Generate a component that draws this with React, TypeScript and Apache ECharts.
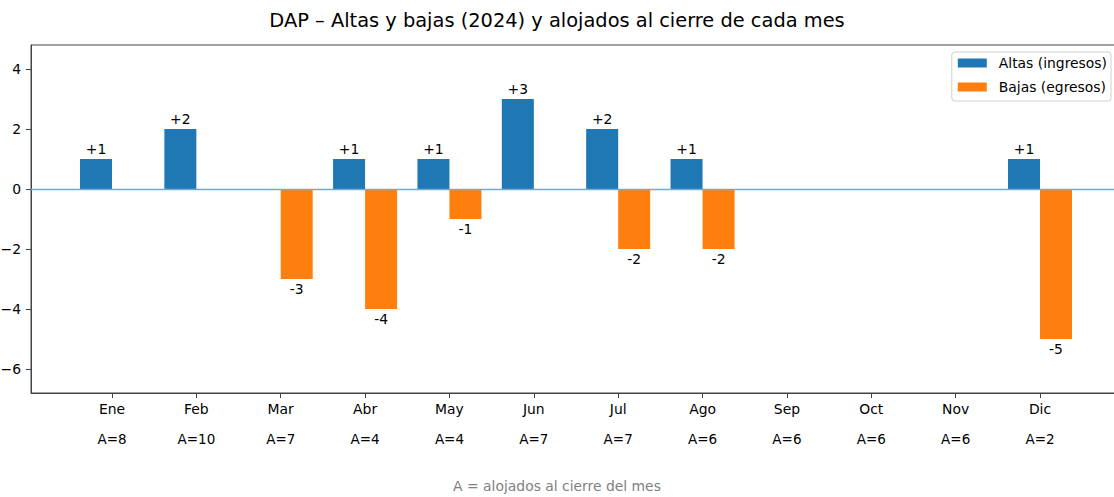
import React, { useEffect, useRef } from "react";
import * as echarts from "echarts";

const months = ["Ene", "Feb", "Mar", "Abr", "May", "Jun", "Jul", "Ago", "Sep", "Oct", "Nov", "Dic"];
const altas = [1, 2, 0, 1, 1, 3, 2, 1, 0, 0, 0, 1];
const bajas = [0, 0, -3, -4, -1, 0, -2, -2, 0, 0, 0, -5];
const alojados = [8, 10, 7, 4, 4, 7, 7, 6, 6, 6, 6, 2];
const yTicks = [-6, -4, -2, 0, 2, 4];

const FONT = "DejaVu Sans";

export default function App() {
  const ref = useRef<HTMLDivElement>(null);
  useEffect(() => {
    if (!ref.current) return;
    const chart = echarts.init(ref.current, undefined, { renderer: "svg" });
    const idx = months.map((_, i) => i);
    chart.setOption({
      animation: false,
      textStyle: { fontFamily: FONT },
      title: {
        text: "DAP – Altas y bajas (2024) y alojados al cierre de cada mes",
        left: "center",
        top: 6,
        textStyle: { fontFamily: FONT, fontSize: 19.4, fontWeight: "normal", color: "#000" },
      },
      legend: {
        orient: "vertical",
        right: 3,
        top: 52,
        padding: [4, 4, 7, 6],
        icon: "rect",
        itemWidth: 29,
        itemHeight: 9,
        itemGap: 10,
        borderColor: "#d0d0d0",
        borderWidth: 1,
        borderRadius: 3,
        backgroundColor: "rgba(255,255,255,0.8)",
        textStyle: { fontFamily: FONT, fontSize: 13.9, color: "#000", padding: [0, 0, 0, 7] },
        data: ["Altas (ingresos)", "Bajas (egresos)"],
      },
      grid: {
        left: 31,
        width: 1090,
        top: 45,
        bottom: 104,
        outerBoundsMode: "none",
        containLabel: false,
        show: true,
        borderColor: "#444",
        borderWidth: 1,
        backgroundColor: "transparent",
      },
      xAxis: {
        type: "value",
        min: -0.96,
        max: 11.96,
        splitLine: { show: false },
        axisLine: { show: true, onZero: false, lineStyle: { color: "#444" } },
        axisTick: { show: true, length: 5, customValues: idx, lineStyle: { color: "#444" } },
        axisLabel: {
          customValues: idx,
          margin: 1,
          formatter: (v: number) => `{m|${months[Math.round(v)]}}\n{a|A=${alojados[Math.round(v)]}}`,
          rich: {
            m: { fontFamily: FONT, fontSize: 13.9, color: "#000", lineHeight: 30 },
            a: { fontFamily: FONT, fontSize: 13.5, color: "#000", lineHeight: 30 },
          },
        },
      },
      yAxis: {
        type: "value",
        min: -6.8,
        max: 4.8,
        splitLine: { show: false },
        axisLine: { show: true, onZero: false, lineStyle: { color: "#444" } },
        axisTick: { show: true, length: 5, customValues: yTicks, lineStyle: { color: "#444" } },
        axisLabel: {
          customValues: yTicks,
          margin: 10,
          fontFamily: FONT,
          fontSize: 13.9,
          color: "#000",
          formatter: (v: number) => String(v).replace("-", "\u2212"),
        },
      },
      series: [
        {
          name: "Altas (ingresos)",
          type: "bar",
          data: altas.map((v, i) => [i, v]),
          barWidth: 32,
          barGap: "0%",
          itemStyle: { color: "#1f77b4" },
          label: {
            show: true,
            position: "top",
            distance: 3,
            fontFamily: FONT,
            fontSize: 13.9,
            color: "#000",
            formatter: (p: any) => (p.value[1] > 0 ? "+" + p.value[1] : ""),
          },
          markLine: {
            silent: true,
            symbol: "none",
            label: { show: false },
            lineStyle: { color: "#74aad3", width: 1.3, type: "solid" },
            data: [{ yAxis: 0 }],
          },
        },
        {
          name: "Bajas (egresos)",
          type: "bar",
          data: bajas.map((v, i) => [i, v]),
          barWidth: 32,
          barGap: "0%",
          itemStyle: { color: "#ff7f0e" },
          label: {
            show: true,
            position: "bottom",
            distance: 3,
            fontFamily: FONT,
            fontSize: 13.9,
            color: "#000",
            formatter: (p: any) => (p.value[1] < 0 ? String(p.value[1]) : ""),
          },
        },
      ],
      graphic: [
        {
          type: "text",
          left: "center",
          top: 479,
          style: { text: "A = alojados al cierre del mes", fill: "#808080", font: `13.9px "${FONT}"` },
        },
      ],
    });
    return () => chart.dispose();
  }, []);
  return <div ref={ref} style={{ position: "absolute", left: 0, top: 0, width: 1114, height: 497, overflow: "hidden" }} />;
}
